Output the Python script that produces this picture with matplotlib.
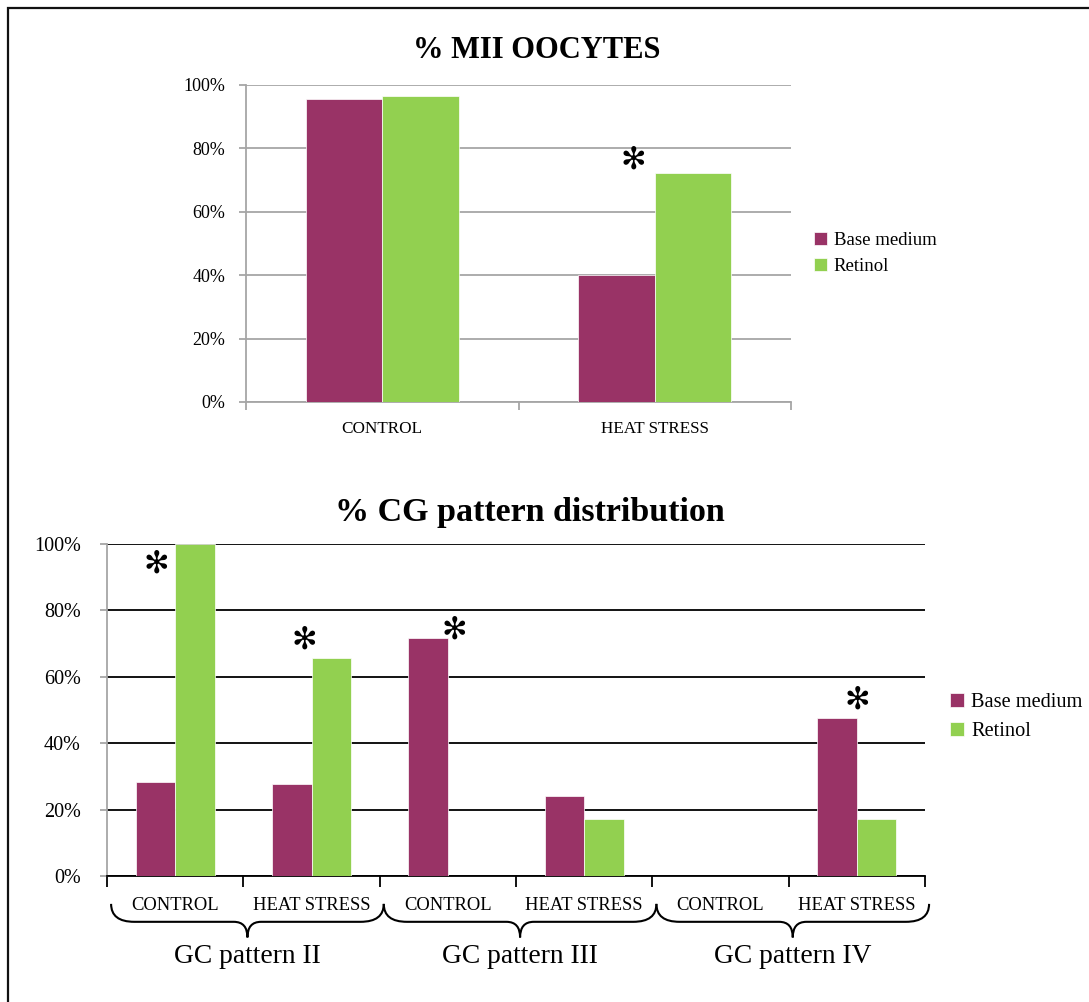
import matplotlib
matplotlib.use("Agg")
import matplotlib.pyplot as plt
from matplotlib.patches import Rectangle, PathPatch
from matplotlib.path import Path

plt.rcParams["font.family"] = ["Liberation Serif", "DejaVu Sans"]

MAROON = "#993366"
GREEN = "#92D050"

# % MII oocytes
mii_groups = ["CONTROL", "HEAT STRESS"]
mii_base = [95.6, 40.0]
mii_retinol = [96.4, 72.3]

# % CG pattern distribution
cg_groups = ["CONTROL", "HEAT STRESS", "CONTROL", "HEAT STRESS", "CONTROL", "HEAT STRESS"]
cg_patterns = ["GC pattern II", "GC pattern III", "GC pattern IV"]
cg_base = [28.3, 27.8, 71.8, 24.2, 0.0, 47.5]
cg_retinol = [100.0, 65.7, 0.0, 17.2, 0.0, 17.2]

series_names = ["Base medium", "Retinol"]

W, H = 1089, 1002
fig = plt.figure(figsize=(W / 100, H / 100), dpi=100)

# frame round the whole figure (only the left and top edges fall inside)
fig.patches.append(Rectangle((8 / W, -0.1), 1.2, 1 - 8 / H + 0.1, transform=fig.transFigure,
                             fill=False, edgecolor="#111111", lw=1.6, clip_on=False))


def px_axes(left, top, right, bottom):
    return fig.add_axes([left / W, 1 - bottom / H, (right - left) / W, (bottom - top) / H])


def pct(v, _):
    return f"{int(v)}%"


# ---- top chart ----
ax1 = px_axes(246, 85, 791, 402)
bw = 0.281
x1 = list(range(len(mii_groups)))
ax1.bar([x - bw / 2 for x in x1], mii_base, bw, color=MAROON, edgecolor="white", lw=0.5,
        label=series_names[0], zorder=3)
ax1.bar([x + bw / 2 for x in x1], mii_retinol, bw, color=GREEN, edgecolor="white", lw=0.5,
        label=series_names[1], zorder=3)
ax1.set_xlim(-0.5, 1.5)
ax1.set_ylim(0, 100)
ax1.set_yticks(range(0, 101, 20))
ax1.yaxis.set_major_formatter(plt.FuncFormatter(pct))
ax1.yaxis.grid(True, color="#a6a6a6", lw=1.3, zorder=0)
ax1.set_xticks([-0.5, 0.5, 1.5])
ax1.set_xticklabels([])
ax1.set_xticks(x1, minor=True)
ax1.set_xticklabels(mii_groups, minor=True)
ax1.tick_params(axis="x", which="major", length=6, width=1.3, color="#a6a6a6")
ax1.tick_params(axis="x", which="minor", length=0, pad=14, labelsize=12.3)
ax1.tick_params(axis="y", length=5, width=1.3, color="#a6a6a6", pad=10, labelsize=13)
for s in ["top", "right"]:
    ax1.spines[s].set_visible(False)
for s in ["left", "bottom"]:
    ax1.spines[s].set_color("#a6a6a6")
    ax1.spines[s].set_linewidth(1.3)
fig.text(537 / W, 1 - 50 / H, "% MII OOCYTES", fontsize=22, fontweight="bold",
         ha="center", va="center")
ax1.text(1 - 0.08, 76.3, "\u273b", family="DejaVu Sans", fontsize=22, ha="center", va="center")
ax1.legend(loc="center left", bbox_to_anchor=(814 / W, 1 - 253.5 / H),
           bbox_transform=fig.transFigure, frameon=False, borderaxespad=0, borderpad=0,
           handlelength=0.7, handleheight=0.7, handletextpad=0.35, labelspacing=0.5,
           fontsize=13.5)

# ---- bottom chart ----
ax2 = px_axes(107, 544, 925, 876)
bw2 = 0.29
x2 = list(range(len(cg_groups)))
ax2.bar([x - bw2 / 2 for x in x2], cg_base, bw2, color=MAROON, edgecolor="white", lw=0.5,
        label=series_names[0], zorder=3)
ax2.bar([x + bw2 / 2 for x in x2], cg_retinol, bw2, color=GREEN, edgecolor="white", lw=0.5,
        label=series_names[1], zorder=3)
ax2.set_xlim(-0.5, 5.5)
ax2.set_ylim(0, 100)
ax2.set_yticks(range(0, 101, 20))
ax2.yaxis.set_major_formatter(plt.FuncFormatter(pct))
ax2.yaxis.grid(True, color="black", lw=1.3, zorder=0)
ax2.set_xticks([x - 0.5 for x in range(7)])
ax2.set_xticklabels([])
ax2.set_xticks(x2, minor=True)
ax2.set_xticklabels(cg_groups, minor=True)
ax2.tick_params(axis="x", which="major", length=8, width=1.3, color="black")
ax2.tick_params(axis="x", which="minor", length=0, pad=15, labelsize=13.4)
ax2.tick_params(axis="y", length=5, width=1.3, color="#a6a6a6", pad=14, labelsize=14.5)
for s in ["top", "right"]:
    ax2.spines[s].set_visible(False)
ax2.spines["left"].set_color("#a6a6a6")
ax2.spines["left"].set_linewidth(1.3)
ax2.spines["bottom"].set_color("black")
ax2.spines["bottom"].set_linewidth(1.3)
fig.text(530 / W, 1 - 513 / H, "% CG pattern distribution", fontsize=24.5, fontweight="bold",
         ha="center", va="center")

# significance marks: (category, x offset, height)
stars = [(0, -0.14, 94.0), (1, -0.05, 71.1), (2, 0.05, 74.1), (5, 0.0, 52.9)]
for c, dx, y in stars:
    ax2.text(c + dx, y, "\u273b", family="DejaVu Sans", fontsize=22, ha="center", va="center")

ax2.legend(loc="center left", bbox_to_anchor=(950 / W, 1 - 717 / H),
           bbox_transform=fig.transFigure, frameon=False, borderaxespad=0, borderpad=0,
           handlelength=0.7, handleheight=0.7, handletextpad=0.35, labelspacing=0.5,
           fontsize=14.7)

# curly braces grouping the pattern pairs
y_end, y_mid, y_tip = -8.4, -13.8, -18.5
for g, name in enumerate(cg_patterns):
    x0, xm, x1b = 2 * g - 0.47, 2 * g + 0.53, 2 * g + 1.53
    r, r2 = 0.17, 0.1
    verts = [(x0, y_end), (x0, y_mid), (x0 + r, y_mid),
             (xm - r2, y_mid),
             (xm, y_mid), (xm, y_tip),
             (xm, y_mid), (xm + r2, y_mid),
             (x1b - r, y_mid),
             (x1b, y_mid), (x1b, y_end)]
    codes = [Path.MOVETO, Path.CURVE3, Path.CURVE3,
             Path.LINETO,
             Path.CURVE3, Path.CURVE3,
             Path.CURVE3, Path.CURVE3,
             Path.LINETO,
             Path.CURVE3, Path.CURVE3]
    ax2.add_patch(PathPatch(Path(verts, codes), fill=False, lw=1.5, color="black",
                            clip_on=False))
    ax2.text(xm, -24.3, name, fontsize=19.8, ha="center", va="center")

fig.savefig("out.png", dpi=100)
